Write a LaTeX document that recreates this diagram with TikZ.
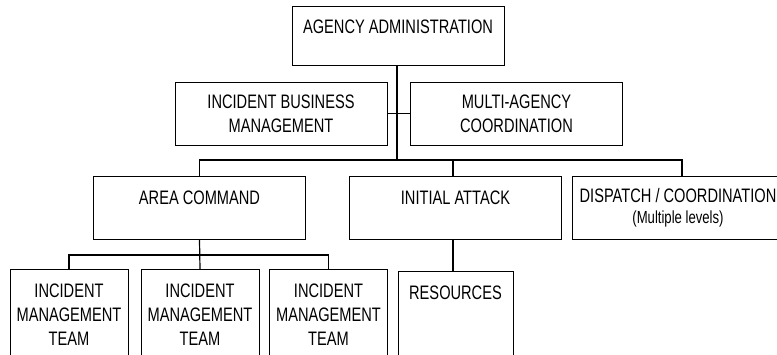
\documentclass[tikz,border=0pt]{standalone}
\usepackage{fontspec}
\setmainfont{Liberation Sans}[FakeStretch=0.75]
\usepackage{tikz}
\usetikzlibrary{positioning,calc}

\newcommand{\boxfont}{\fontsize{19.5}{24}\selectfont}
\newcommand{\notefont}{\fontsize{17.5}{20}\selectfont}

\begin{document}
\begin{tikzpicture}[
    x=1pt, y=-1pt,
    unit/.style={rectangle, draw, line width=0.8pt, align=center,
                 font=\boxfont, inner xsep=0pt, inner ysep=0pt,
                 minimum width=212pt, minimum height=63pt, anchor=north},
    oneline/.style={minimum height=0pt, text height=28pt, text depth=35pt},
    team/.style={unit, minimum width=118pt, minimum height=90pt},
    link/.style={line width=1.2pt},
  ]

  \path[use as bounding box, clip] (0,0) rectangle (777,355);

  % === Top ===
  \node[unit, oneline, text height=27pt, text depth=32pt] (admin) at (398,6) {AGENCY ADMINISTRATION};

  % === Staff ===
  \node[unit] (ibm) at (281,82) {INCIDENT BUSINESS\\MANAGEMENT};
  \node[unit] (mac) at (516.5,82) {MULTI-AGENCY\\COORDINATION};

  % === Second row ===
  \node[unit, oneline] (area) at (199.5,176) {AREA COMMAND};
  \node[unit, oneline] (initial) at (455.5,176) {INITIAL ATTACK};
  \node[unit] (dispatch) at (678,176)
    {DISPATCH / COORDINATION\\[-3pt]{\notefont(Multiple levels)}};

  % === Bottom row ===
  \node[team] (imt1) at (69,269) {INCIDENT\\MANAGEMENT\\TEAM};
  \node[team] (imt2) at (200,269) {INCIDENT\\MANAGEMENT\\TEAM};
  \node[team] (imt3) at (328.5,269) {INCIDENT\\MANAGEMENT\\TEAM};
  \node[unit, oneline, minimum width=115pt, text depth=65pt] (res) at (455.5,271) {RESOURCES};

  % Admin -> staff and second row
  \coordinate (j1) at (397,160);
  \draw[link] (admin.south -| j1) -- (j1);
  \draw[link] (ibm.east) -- (mac.west);
  \draw[link] (area.north) |- (j1);
  \draw[link] (dispatch.north) ++(4,0) |- (j1);
  \draw[link] (initial.north) ++(-2.5,0) -- ++(0,-16);

  % Area command -> teams
  \coordinate (j2) at (200,255);
  \draw[link] (area.south) -- (imt2.north);
  \draw[link] (imt1.north) |- (j2) -| (imt3.north);

  % Initial attack -> resources
  \draw[link] (initial.south) ++(-2.5,0) -- (res.north -| 453,0);

\end{tikzpicture}
\end{document}
